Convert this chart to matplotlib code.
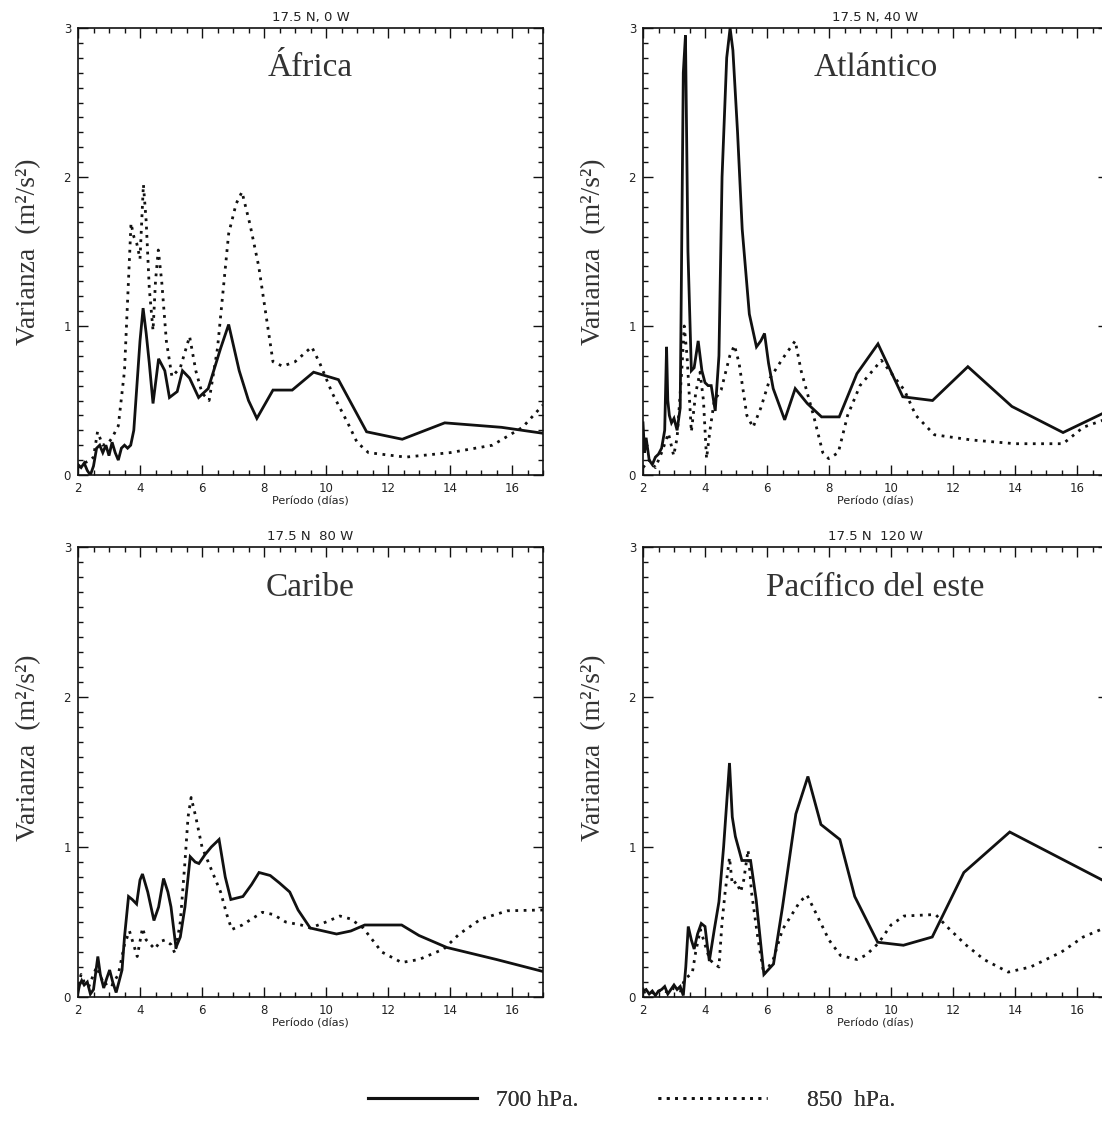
import matplotlib
matplotlib.use("Agg")
from matplotlib import pyplot as plt
from matplotlib.ticker import MultipleLocator

# Africa (17.5 N, 0 W)
africa_x_700 = [2.0, 2.1, 2.2, 2.3, 2.4, 2.5, 2.6, 2.7, 2.8, 2.9, 3.0, 3.1, 3.2, 3.3, 3.4, 3.5, 3.6, 3.7, 3.8, 3.9,
                4.0, 4.1, 4.2, 4.3, 4.42, 4.6, 4.8, 4.95, 5.2, 5.37, 5.6, 5.89, 6.2, 6.6, 6.86, 7.2, 7.5, 7.77,
                8.29, 8.91, 9.6, 10.4, 11.31, 12.46, 13.83, 15.66, 17.0]
africa_y_700 = [0.07, 0.05, 0.08, 0.03, 0.0, 0.06, 0.18, 0.2, 0.15, 0.2, 0.13, 0.22, 0.15, 0.1, 0.18, 0.2, 0.18, 0.2,
                0.3, 0.6, 0.9, 1.12, 0.95, 0.75, 0.48, 0.78, 0.7, 0.52, 0.56, 0.7, 0.65, 0.52, 0.58, 0.85, 1.01,
                0.7, 0.5, 0.38, 0.57, 0.57, 0.69, 0.64, 0.29, 0.24, 0.35, 0.32, 0.28]
africa_x_850 = [2.0, 2.2, 2.4, 2.5, 2.63, 2.8, 3.0, 3.1, 3.3, 3.5, 3.71, 3.8, 3.9, 4.0, 4.11, 4.2, 4.3, 4.42, 4.5,
                4.59, 4.7, 4.85, 5.03, 5.3, 5.6, 5.8, 6.0, 6.23, 6.5, 6.86, 7.1, 7.29, 7.55, 7.83, 8.29, 8.6, 9.0,
                9.54, 9.8, 10.2, 10.7, 11.0, 11.37, 12.57, 14.0, 15.37, 16.34, 17.0]
africa_y_850 = [0.05, 0.08, 0.1, 0.12, 0.29, 0.2, 0.22, 0.25, 0.33, 0.7, 1.69, 1.6, 1.55, 1.45, 1.95, 1.7, 1.25,
                0.97, 1.3, 1.51, 1.3, 0.9, 0.66, 0.72, 0.93, 0.7, 0.55, 0.5, 0.85, 1.62, 1.82, 1.9, 1.68, 1.4,
                0.76, 0.73, 0.76, 0.86, 0.75, 0.55, 0.35, 0.22, 0.15, 0.12, 0.15, 0.2, 0.32, 0.47]

# Atlantico (17.5 N, 40 W)
atlantico_x_700 = [2.0, 2.05, 2.1, 2.2, 2.3, 2.4, 2.5, 2.6, 2.7, 2.76, 2.8, 2.85, 2.92, 3.0, 3.1, 3.2, 3.3, 3.37,
                   3.45, 3.56, 3.65, 3.78, 3.9, 4.0, 4.1, 4.2, 4.33, 4.45, 4.55, 4.7, 4.81, 4.9, 5.05, 5.2, 5.43,
                   5.66, 5.8, 5.92, 6.05, 6.2, 6.57, 6.91, 7.3, 7.76, 8.33, 8.9, 9.58, 10.38, 11.34, 12.48, 13.9,
                   15.55, 17.0]
atlantico_y_700 = [0.35, 0.15, 0.25, 0.1, 0.07, 0.12, 0.14, 0.18, 0.3, 0.86, 0.5, 0.4, 0.35, 0.38, 0.3, 0.45, 2.7,
                   2.95, 1.5, 0.7, 0.72, 0.9, 0.7, 0.62, 0.6, 0.6, 0.43, 0.8, 2.0, 2.8, 3.0, 2.85, 2.3, 1.65, 1.08,
                   0.86, 0.9, 0.95, 0.75, 0.58, 0.37, 0.58, 0.48, 0.39, 0.39, 0.68, 0.88, 0.525, 0.5, 0.727, 0.46,
                   0.285, 0.43]
atlantico_x_850 = [2.0, 2.2, 2.4, 2.6, 2.82, 2.99, 3.1, 3.25, 3.33, 3.42, 3.56, 3.7, 3.84, 3.95, 4.05, 4.16, 4.3,
                   4.52, 4.8, 4.95, 5.1, 5.35, 5.55, 5.8, 6.1, 6.5, 6.91, 7.1, 7.5, 7.8, 7.99, 8.3, 8.6, 9.0, 9.69,
                   10.43, 10.8, 11.4, 12.6, 14.0, 15.55, 16.2, 17.0]
atlantico_y_850 = [0.05, 0.1, 0.05, 0.15, 0.28, 0.13, 0.25, 0.7, 1.0, 0.8, 0.29, 0.55, 0.69, 0.5, 0.11, 0.3, 0.5,
                   0.57, 0.8, 0.87, 0.75, 0.4, 0.32, 0.45, 0.65, 0.78, 0.9, 0.7, 0.4, 0.15, 0.11, 0.15, 0.4, 0.6,
                   0.77, 0.57, 0.4, 0.27, 0.235, 0.21, 0.21, 0.32, 0.38]

# Caribe (17.5 N, 80 W)
caribe_x_700 = [2.0, 2.05, 2.12, 2.2, 2.3, 2.4, 2.5, 2.64, 2.72, 2.83, 2.92, 3.02, 3.12, 3.23, 3.32, 3.42, 3.5, 3.63,
                3.75, 3.89, 4.0, 4.08, 4.25, 4.45, 4.6, 4.76, 4.9, 5.0, 5.16, 5.3, 5.45, 5.62, 5.78, 5.9, 6.1, 6.3,
                6.55, 6.75, 6.93, 7.32, 7.6, 7.84, 8.2, 8.5, 8.83, 9.1, 9.49, 10.34, 10.8, 11.25, 12.44, 13.0,
                13.9, 15.5, 17.0]
caribe_y_700 = [0.03, 0.08, 0.11, 0.08, 0.1, 0.02, 0.05, 0.27, 0.15, 0.06, 0.12, 0.18, 0.1, 0.03, 0.1, 0.18, 0.4,
                0.67, 0.65, 0.62, 0.78, 0.82, 0.7, 0.51, 0.6, 0.79, 0.7, 0.6, 0.33, 0.4, 0.6, 0.935, 0.9, 0.89, 0.95,
                1.0, 1.05, 0.8, 0.65, 0.67, 0.75, 0.83, 0.81, 0.76, 0.7, 0.58, 0.46, 0.42, 0.44, 0.48, 0.48, 0.41,
                0.33, 0.25, 0.17]
caribe_x_850 = [2.0, 2.1, 2.2, 2.35, 2.5, 2.6, 2.7, 2.85, 3.0, 3.1, 3.3, 3.5, 3.66, 3.91, 4.08, 4.2, 4.48, 4.65, 4.8,
                5.0, 5.13, 5.3, 5.45, 5.55, 5.65, 5.8, 6.0, 6.3, 6.6, 6.8, 6.96, 7.3, 7.6, 7.95, 8.3, 8.7, 9.2, 9.5,
                10.0, 10.45, 10.8, 11.2, 11.8, 12.44, 13.0, 13.8, 14.3, 15.0, 15.86, 17.0]
caribe_y_850 = [0.08, 0.15, 0.1, 0.07, 0.15, 0.2, 0.15, 0.08, 0.1, 0.08, 0.15, 0.35, 0.44, 0.27, 0.46, 0.38, 0.32,
                0.37, 0.38, 0.35, 0.29, 0.5, 0.9, 1.2, 1.33, 1.2, 1.0, 0.85, 0.7, 0.55, 0.45, 0.48, 0.52, 0.565,
                0.55, 0.5, 0.48, 0.46, 0.5, 0.54, 0.52, 0.46, 0.3, 0.23, 0.25, 0.32, 0.42, 0.52, 0.575, 0.58]

# Pacifico del este (17.5 N, 120 W)
pacifico_x_700 = [2.0, 2.1, 2.2, 2.3, 2.4, 2.5, 2.6, 2.7, 2.8, 2.9, 3.0, 3.1, 3.2, 3.3, 3.38, 3.46, 3.56, 3.65,
                  3.76, 3.88, 4.0, 4.07, 4.14, 4.3, 4.45, 4.6, 4.79, 4.88, 4.98, 5.19, 5.47, 5.65, 5.8, 5.9, 6.21,
                  6.5, 6.93, 7.32, 7.74, 8.35, 8.83, 9.57, 10.4, 11.33, 12.35, 13.83, 17.0]
pacifico_y_700 = [0.04, 0.05, 0.02, 0.04, 0.01, 0.04, 0.05, 0.07, 0.02, 0.05, 0.08, 0.05, 0.07, 0.01, 0.2, 0.47,
                  0.38, 0.32, 0.42, 0.49, 0.47, 0.35, 0.24, 0.45, 0.635, 1.0, 1.56, 1.2, 1.07, 0.91, 0.91, 0.65,
                  0.35, 0.15, 0.22, 0.6, 1.22, 1.47, 1.15, 1.05, 0.67, 0.365, 0.345, 0.4, 0.83, 1.1, 0.76]
pacifico_x_850 = [2.0, 2.2, 2.4, 2.6, 2.8, 3.0, 3.2, 3.35, 3.59, 3.7, 3.85, 4.0, 4.15, 4.3, 4.45, 4.55, 4.65, 4.79,
                  4.88, 5.01, 5.15, 5.25, 5.39, 5.5, 5.7, 5.9, 6.2, 6.5, 7.06, 7.29, 7.6, 8.0, 8.37, 8.9, 9.2, 9.6,
                  10.0, 10.42, 11.44, 11.8, 12.4, 13.0, 13.78, 14.5, 15.5, 16.2, 17.0]
pacifico_y_850 = [0.03, 0.04, 0.02, 0.05, 0.03, 0.06, 0.04, 0.12, 0.16, 0.3, 0.45, 0.35, 0.25, 0.22, 0.2, 0.5, 0.7,
                  0.93, 0.75, 0.77, 0.7, 0.78, 0.98, 0.7, 0.4, 0.15, 0.25, 0.45, 0.635, 0.68, 0.55, 0.38, 0.277,
                  0.25, 0.28, 0.36, 0.48, 0.54, 0.55, 0.47, 0.35, 0.25, 0.166, 0.2, 0.3, 0.4, 0.47]

panel_titles = ["17.5 N, 0 W", "17.5 N, 40 W", "17.5 N  80 W", "17.5 N  120 W"]
region_names = ["África", "Atlántico", "Caribe", "Pacífico del este"]
x_ticks = [2, 4, 6, 8, 10, 12, 14, 16]
y_ticks = [0, 1, 2, 3]
legend_labels = ["700 hPa.", "850  hPa."]

W, H = 1102, 1127
SANS = "DejaVu Sans"
SERIF = "Liberation Serif"
INK = "#111111"
DOTS = (0, (1, 2))


def px_box(left, top, right, bottom):
    """Convert a pixel box into a figure-fraction rect"""
    return [left / W, 1 - bottom / H, (right - left) / W, (bottom - top) / H]


def draw_panel(fig, rect, data, title, region, ylab_x, ylab_y):
    """Draw one spectrum panel"""
    x7, y7, x8, y8 = data
    ax = fig.add_axes(rect)
    ax.plot(x7, y7, color=INK, lw=2.0, solid_joinstyle="miter")
    ax.plot(x8, y8, color=INK, lw=2.0, linestyle=DOTS)

    ax.set_xlim(2, 17)
    ax.set_ylim(0, 3)
    ax.set_xticks(x_ticks)
    ax.set_yticks(y_ticks)
    ax.xaxis.set_minor_locator(MultipleLocator(0.5))
    ax.yaxis.set_minor_locator(MultipleLocator(0.1))
    ax.tick_params(which="both", direction="in", top=True, right=True, width=1.0, colors=INK,
                   labelsize=8.5, labelcolor="#222222")
    ax.tick_params(which="major", length=7, pad=5)
    ax.tick_params(which="minor", length=3.5)
    for side in ax.spines.values():
        side.set_linewidth(1.2)
        side.set_color(INK)
    for lab in ax.get_xticklabels() + ax.get_yticklabels():
        lab.set_family(SANS)

    ax.set_title(title, fontsize=9.5, family=SANS, color="#222222", pad=5)
    ax.set_xlabel("Período (días)", fontsize=8, family=SANS, color="#222222", labelpad=1)
    ax.set_ylabel("Varianza  (m²/s²)", fontsize=20, family=SERIF, color="#333333")
    ax.yaxis.set_label_coords(ylab_x, ylab_y)
    ax.text(0.5, 0.91, region, transform=ax.transAxes, ha="center", va="center",
            fontsize=24, family=SERIF, color="#333333")
    return ax


fig = plt.figure(figsize=(W / 100, H / 100), dpi=100)

panels = [
    (px_box(78, 28, 543, 475), (africa_x_700, africa_y_700, africa_x_850, africa_y_850), -0.08, 0.5),
    (px_box(643, 28, 1108, 475), (atlantico_x_700, atlantico_y_700, atlantico_x_850, atlantico_y_850), -0.08, 0.5),
    (px_box(78, 547, 543, 997), (caribe_x_700, caribe_y_700, caribe_x_850, caribe_y_850), -0.08, 0.553),
    (px_box(643, 547, 1108, 997), (pacifico_x_700, pacifico_y_700, pacifico_x_850, pacifico_y_850), -0.08, 0.553),
]
for i, (rect, data, lx, ly) in enumerate(panels):
    draw_panel(fig, rect, data, panel_titles[i], region_names[i], lx, ly)

# Legend at the bottom, one entry each so the spacing can follow the original
h700 = plt.Line2D([], [], color=INK, lw=2.2)
h850 = plt.Line2D([], [], color=INK, lw=2.0, linestyle=DOTS)
for handle, label, x0, pad in [(h700, legend_labels[0], 368, 0.8), (h850, legend_labels[1], 658, 1.7)]:
    leg = fig.legend([handle], [label], loc="center left", bbox_to_anchor=(x0 / W, 1 - 1100 / H),
                     frameon=False, borderpad=0, borderaxespad=0, handlelength=4.6, handletextpad=pad,
                     prop={"family": SERIF, "size": 17})
    for t in leg.get_texts():
        t.set_color("#333333")
    fig.add_artist(leg)

plt.savefig("out.png", dpi=100)
